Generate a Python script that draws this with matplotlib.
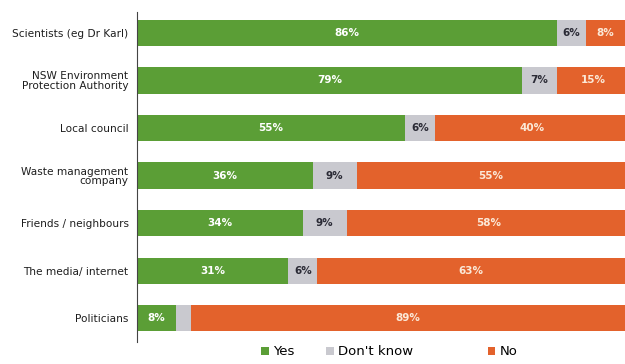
import matplotlib
matplotlib.use('Agg')
import matplotlib.pyplot as plt
import numpy as np

sources = ['Scientists (eg Dr Karl)', 'NSW Environment\nProtection Authority', 'Local council',
           'Waste management\ncompany', 'Friends / neighbours', 'The media/ internet', 'Politicians']
yes = [86, 79, 55, 36, 34, 31, 8]
dont_know = [6, 7, 6, 9, 9, 6, 3]
no = [8, 15, 40, 55, 58, 63, 89]

green = '#5b9e36'
grey = '#c9c9cf'
orange = '#e3622c'

fig = plt.figure(figsize=(6.25, 3.64), dpi=100)
ax = fig.add_axes([0.219, 0.06, 0.781, 0.907])

y = np.arange(len(sources))
h = 0.55
yes_a = np.array(yes)
dk_a = np.array(dont_know)
no_a = np.array(no)

b1 = ax.barh(y, yes_a, height=h, color=green, label='Yes')
b2 = ax.barh(y, dk_a, left=yes_a, height=h, color=grey, label="Don't know")
b3 = ax.barh(y, no_a, left=yes_a + dk_a, height=h, color=orange, label='No')

for vals, lefts, col in [(yes_a, 0 * yes_a, 'white'),
                         (dk_a, yes_a, '#2a2a35'),
                         (no_a, yes_a + dk_a, '#fbe9d8')]:
    for yi, v, l in zip(y, vals, lefts):
        if v < 4:
            continue
        ax.text(l + v / 2, yi, f'{v}%', ha='center', va='center',
                fontsize=7.5, fontweight='bold', color=col)

ax.set_xlim(0, 100)
ax.set_ylim(6.505, -0.44)
ax.set_yticks(y)
ax.set_yticklabels(sources, fontsize=7.6, color='#1e1e1e', linespacing=0.9,
                   fontweight='medium')
ax.tick_params(axis='y', length=0, pad=6)
ax.set_xticks([])
for s in ['top', 'right', 'bottom']:
    ax.spines[s].set_visible(False)
ax.spines['left'].set_color('#444444')
ax.spines['left'].set_linewidth(0.8)

# legend entries sit at uneven spacing along the bottom
for handle, xpos in [(b1, 0.415), (b2, 0.52), (b3, 0.778)]:
    fig.legend(handles=[handle], loc='center left', bbox_to_anchor=(xpos, 0.033),
               frameon=False, fontsize=9.5, handlelength=0.6, handleheight=0.6,
               handletextpad=0.3, borderaxespad=0.0, borderpad=0.1)

fig.savefig('out.png', dpi=100)
